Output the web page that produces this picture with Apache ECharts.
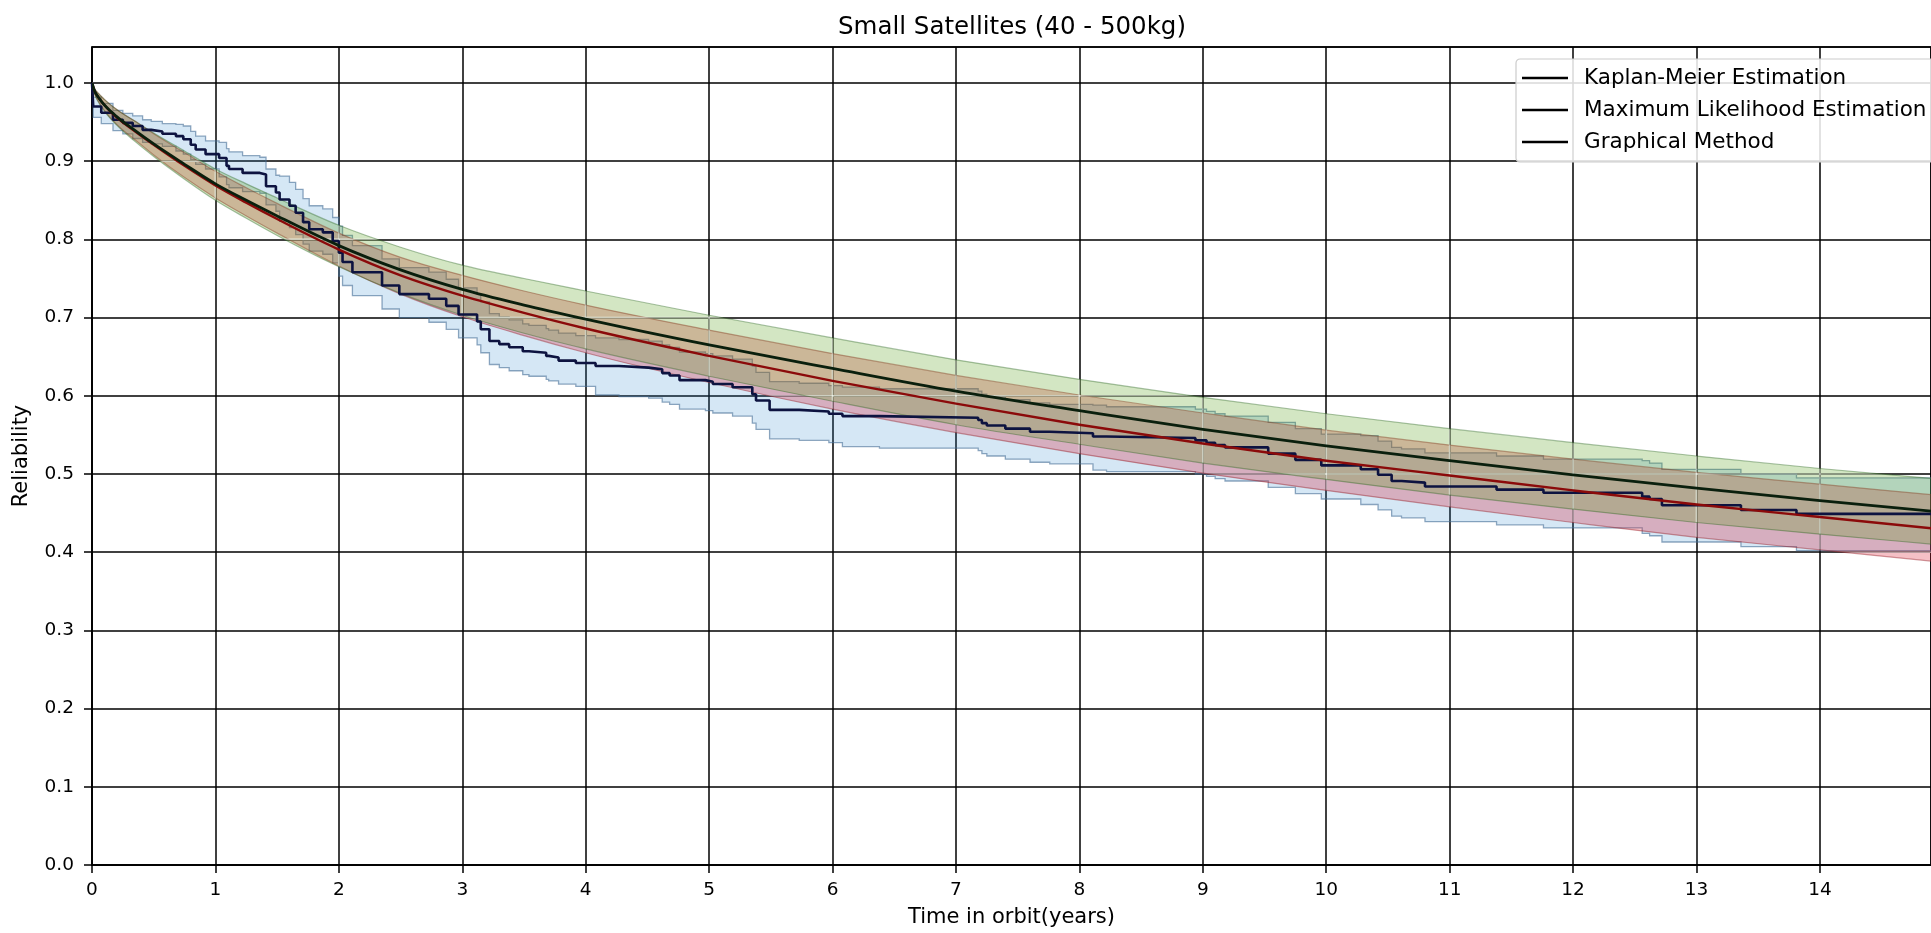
<!DOCTYPE html>
<html>
<head>
<meta charset="utf-8">
<title>Small Satellites (40 - 500kg)</title>
<script src="https://cdn.jsdelivr.net/npm/echarts@6/dist/echarts.min.js"></script>
<style>
  html, body { margin: 0; padding: 0; background: #ffffff; }
  #chart { width: 1931px; height: 933px; }
</style>
</head>
<body>
<div id="chart"></div>
<script>
// ---- Kaplan-Meier estimate (step function) with its confidence interval ----
const kmTime = [0, 0.01, 0.075, 0.17, 0.25, 0.33, 0.41, 0.48, 0.57, 0.68,
  0.74, 0.80, 0.84, 0.92, 1.03, 1.09, 1.11, 1.22, 1.36, 1.41,
  1.49, 1.52, 1.60, 1.65, 1.71, 1.76, 1.87, 1.95, 2.00, 2.03,
  2.11, 2.35, 2.49, 2.73, 2.87, 2.97, 3.12, 3.15, 3.22, 3.30,
  3.38, 3.49, 3.54, 3.68, 3.70, 3.78, 3.92, 4.08, 4.27, 4.51,
  4.62, 4.68, 4.76, 4.97, 5.03, 5.19, 5.35, 5.38, 5.49, 5.73,
  5.97, 6.08, 6.38, 7.18, 7.21, 7.25, 7.40, 7.60, 7.76, 8.11,
  8.22, 8.94, 9.03, 9.10, 9.18, 9.53, 9.75, 9.96, 10.28, 10.42,
  10.53, 10.61, 10.80, 11.38, 11.76, 12.56, 12.62, 12.72, 13.36, 13.81,
  15.0];
const kmReliability = [1.0, 0.970, 0.962, 0.953, 0.949, 0.945, 0.940, 0.938, 0.935, 0.932,
  0.928, 0.921, 0.915, 0.909, 0.904, 0.894, 0.890, 0.885, 0.883, 0.868,
  0.860, 0.851, 0.843, 0.834, 0.822, 0.813, 0.809, 0.798, 0.783, 0.771,
  0.758, 0.741, 0.730, 0.724, 0.715, 0.704, 0.695, 0.685, 0.670, 0.666,
  0.662, 0.657, 0.655, 0.651, 0.649, 0.645, 0.642, 0.638, 0.636, 0.634,
  0.629, 0.626, 0.620, 0.618, 0.615, 0.611, 0.602, 0.594, 0.582, 0.580,
  0.577, 0.574, 0.572, 0.569, 0.565, 0.562, 0.558, 0.554, 0.552, 0.548,
  0.546, 0.543, 0.540, 0.537, 0.534, 0.526, 0.518, 0.511, 0.506, 0.499,
  0.491, 0.489, 0.484, 0.480, 0.476, 0.471, 0.468, 0.460, 0.454, 0.449,
  0.449];
const kmLower = [1.0, 0.956, 0.948, 0.939, 0.935, 0.929, 0.924, 0.922, 0.919, 0.913,
  0.909, 0.902, 0.896, 0.890, 0.880, 0.870, 0.866, 0.861, 0.859, 0.844,
  0.836, 0.823, 0.815, 0.806, 0.794, 0.785, 0.781, 0.770, 0.753, 0.741,
  0.728, 0.711, 0.700, 0.694, 0.685, 0.674, 0.665, 0.655, 0.640, 0.636,
  0.632, 0.627, 0.625, 0.621, 0.619, 0.615, 0.612, 0.601, 0.599, 0.597,
  0.592, 0.589, 0.583, 0.581, 0.578, 0.574, 0.565, 0.557, 0.545, 0.543,
  0.540, 0.535, 0.533, 0.530, 0.526, 0.523, 0.519, 0.515, 0.513, 0.505,
  0.503, 0.500, 0.497, 0.494, 0.491, 0.483, 0.475, 0.468, 0.461, 0.454,
  0.446, 0.444, 0.439, 0.435, 0.431, 0.424, 0.421, 0.413, 0.407, 0.402,
  0.402];
const kmUpper = [1.0, 0.982, 0.974, 0.965, 0.961, 0.958, 0.953, 0.951, 0.948, 0.947,
  0.945, 0.938, 0.932, 0.926, 0.924, 0.916, 0.912, 0.907, 0.905, 0.890,
  0.882, 0.881, 0.873, 0.864, 0.852, 0.843, 0.839, 0.828, 0.817, 0.805,
  0.792, 0.775, 0.764, 0.758, 0.749, 0.738, 0.730, 0.720, 0.705, 0.701,
  0.697, 0.692, 0.690, 0.686, 0.684, 0.680, 0.677, 0.674, 0.672, 0.670,
  0.665, 0.662, 0.656, 0.654, 0.651, 0.647, 0.638, 0.630, 0.618, 0.616,
  0.613, 0.611, 0.609, 0.606, 0.602, 0.599, 0.595, 0.591, 0.589, 0.588,
  0.586, 0.583, 0.580, 0.577, 0.574, 0.566, 0.558, 0.551, 0.549, 0.542,
  0.534, 0.532, 0.527, 0.523, 0.519, 0.517, 0.514, 0.506, 0.500, 0.495,
  0.495];

// ---- Fitted reliability curves, sampled at these times (years) ----
const fitTime = [0, 0.02, 0.05, 0.1, 0.2, 0.35, 0.5, 0.75, 1, 1.25,
  1.5, 2, 2.5, 3, 3.5, 4, 5, 6, 7, 8,
  9, 10, 11, 12, 13, 14, 15];

// Maximum likelihood estimate and its confidence bounds
const mleReliability = [1.0, 0.990, 0.982, 0.972, 0.957, 0.939, 0.922, 0.896, 0.871, 0.850,
  0.830, 0.792, 0.761, 0.736, 0.716, 0.698, 0.665, 0.635, 0.606, 0.581,
  0.557, 0.536, 0.517, 0.499, 0.482, 0.466, 0.451];
const mleLower = [1.0, 0.986, 0.976, 0.964, 0.946, 0.925, 0.906, 0.877, 0.850, 0.827,
  0.805, 0.765, 0.731, 0.703, 0.680, 0.660, 0.625, 0.593, 0.563, 0.538,
  0.514, 0.493, 0.473, 0.455, 0.438, 0.423, 0.409];
const mleUpper = [1.0, 0.993, 0.987, 0.979, 0.966, 0.951, 0.936, 0.913, 0.890, 0.871,
  0.853, 0.818, 0.790, 0.767, 0.750, 0.734, 0.703, 0.674, 0.646, 0.621,
  0.598, 0.577, 0.558, 0.540, 0.523, 0.507, 0.493];

// Graphical-method estimate and its confidence bounds
const graphReliability = [1.0, 0.990, 0.982, 0.972, 0.956, 0.938, 0.921, 0.894, 0.869, 0.847,
  0.826, 0.787, 0.754, 0.728, 0.706, 0.686, 0.651, 0.619, 0.590, 0.563,
  0.539, 0.517, 0.498, 0.479, 0.461, 0.445, 0.429];
const graphLower = [1.0, 0.987, 0.977, 0.965, 0.947, 0.927, 0.908, 0.879, 0.853, 0.830,
  0.808, 0.766, 0.730, 0.701, 0.677, 0.655, 0.617, 0.583, 0.553, 0.526,
  0.501, 0.479, 0.458, 0.438, 0.419, 0.403, 0.387];
const graphUpper = [1.0, 0.993, 0.987, 0.979, 0.966, 0.951, 0.935, 0.911, 0.887, 0.866,
  0.846, 0.808, 0.777, 0.754, 0.734, 0.716, 0.684, 0.654, 0.626, 0.601,
  0.578, 0.556, 0.537, 0.519, 0.502, 0.487, 0.472];

// ---- Axis ticks and text ----
const xTicks = [0, 1, 2, 3, 4, 5, 6, 7, 8, 9, 10, 11, 12, 13, 14];
const yTicks = [0.0, 0.1, 0.2, 0.3, 0.4, 0.5, 0.6, 0.7, 0.8, 0.9, 1.0];
const legendNames = ['Kaplan-Meier Estimation', 'Maximum Likelihood Estimation', 'Graphical Method'];
const chartTitle = 'Small Satellites (40 - 500kg)';
const xAxisTitle = 'Time in orbit(years)';
const yAxisTitle = 'Reliability';

// ---------------------------------------------------------------------------
const FONT = 'DejaVu Sans';

function zip(xs, ys) { return xs.map((x, i) => [x, ys[i]]); }

// Vertices of a post-step ("step end") polyline through pixel points.
function stepVertices(pts) {
  const out = [pts[0]];
  for (let i = 1; i < pts.length; i++) {
    out.push([pts[i][0], pts[i - 1][1]]);
    out.push(pts[i]);
  }
  return out;
}

// Monotone cubic Hermite slopes for a curve y(x) given in pixels.
function hermiteSlopes(pts) {
  const n = pts.length, d = [], m = new Array(n);
  for (let i = 0; i < n - 1; i++) {
    d.push((pts[i + 1][1] - pts[i][1]) / (pts[i + 1][0] - pts[i][0]));
  }
  m[0] = d[0];
  m[n - 1] = d[n - 2];
  for (let i = 1; i < n - 1; i++) {
    const h0 = pts[i][0] - pts[i - 1][0], h1 = pts[i + 1][0] - pts[i][0];
    if (d[i - 1] * d[i] <= 0) { m[i] = 0; continue; }
    let s = (d[i - 1] * h1 + d[i] * h0) / (h0 + h1);
    const lim = 3 * Math.min(Math.abs(d[i - 1]), Math.abs(d[i]));
    if (Math.abs(s) > lim) s = Math.sign(s) * lim;
    m[i] = s;
  }
  return m;
}

// Bezier commands continuing a path through pts (the path is already at pts[0]).
function curveCommands(pts) {
  const m = hermiteSlopes(pts);
  let d = '';
  for (let i = 0; i < pts.length - 1; i++) {
    const [x0, y0] = pts[i], [x1, y1] = pts[i + 1];
    const dx = (x1 - x0) / 3;
    d += ' C' + (x0 + dx) + ',' + (y0 + m[i] * dx) + ' ' + (x1 - dx) + ',' + (y1 - m[i + 1] * dx) + ' ' + x1 + ',' + y1;
  }
  return d;
}

function clipOf(params) {
  const cs = params.coordSys;
  return { type: 'rect', shape: { x: cs.x, y: cs.y, width: cs.width, height: cs.height } };
}

// Light grid strokes seen through a shaded band.
function bandGridLines(params, api, color) {
  const cs = params.coordSys, lines = [];
  xTicks.forEach(t => {
    const x = api.coord([t, 0])[0];
    lines.push({ type: 'line', shape: { x1: x, y1: cs.y, x2: x, y2: cs.y + cs.height },
      style: { stroke: color, lineWidth: 1.6 } });
  });
  yTicks.forEach(v => {
    const y = api.coord([0, v])[1];
    lines.push({ type: 'line', shape: { x1: cs.x, y1: y, x2: cs.x + cs.width, y2: y },
      style: { stroke: color, lineWidth: 1.6 } });
  });
  return lines;
}

// Confidence band drawn as a filled region between two bound curves.
function bandSeries(name, times, lower, upper, stepped, fill, edge, gridTint, z) {
  return {
    type: 'custom',
    name: name,
    silent: true,
    z: z,
    data: [[times[0], upper[0]]],
    encode: { x: 0, y: 1 },
    renderItem: function (params, api) {
      const up = times.map((t, i) => api.coord([t, upper[i]]));
      const lo = times.map((t, i) => api.coord([t, lower[i]]));
      const children = [];
      if (stepped) {
        const upV = stepVertices(up), loV = stepVertices(lo);
        children.push({ type: 'polygon', shape: { points: upV.concat(loV.slice().reverse()) },
          style: { fill: fill, stroke: null } });
        children.push({ type: 'polyline', shape: { points: upV }, style: { fill: null, stroke: edge, lineWidth: 1.3 } });
        children.push({ type: 'polyline', shape: { points: loV }, style: { fill: null, stroke: edge, lineWidth: 1.3 } });
      } else {
        const loRev = lo.slice().reverse();
        const area = 'M' + up[0][0] + ',' + up[0][1] + curveCommands(up) +
          ' L' + loRev[0][0] + ',' + loRev[0][1] + curveCommands(loRev) + ' Z';
        children.push({ type: 'path', shape: { pathData: area }, style: { fill: fill, stroke: null } });
        if (gridTint) {
          children.push({ type: 'group', clipPath: { type: 'path', shape: { pathData: area } },
            children: bandGridLines(params, api, gridTint) });
        }
        children.push({ type: 'path', shape: { pathData: 'M' + up[0][0] + ',' + up[0][1] + curveCommands(up) },
          style: { fill: null, stroke: edge, lineWidth: 1.2 } });
        children.push({ type: 'path', shape: { pathData: 'M' + lo[0][0] + ',' + lo[0][1] + curveCommands(lo) },
          style: { fill: null, stroke: edge, lineWidth: 1.2 } });
      }
      return { type: 'group', clipPath: clipOf(params), children: children };
    }
  };
}

// Smooth estimate curve drawn through the sampled points.
function curveSeries(name, times, values, color, width, z) {
  return {
    type: 'custom',
    name: name,
    silent: true,
    z: z,
    data: [[times[0], values[0]]],
    encode: { x: 0, y: 1 },
    itemStyle: { color: color },
    renderItem: function (params, api) {
      const pts = times.map((t, i) => api.coord([t, values[i]]));
      return {
        type: 'group', clipPath: clipOf(params),
        children: [{ type: 'path', shape: { pathData: 'M' + pts[0][0] + ',' + pts[0][1] + curveCommands(pts) },
          style: { fill: null, stroke: color, lineWidth: width, lineJoin: 'round' } }]
      };
    }
  };
}

const chart = echarts.init(document.getElementById('chart'), null, { renderer: 'canvas', width: 1931, height: 933 });

const axisLineStyle = { color: '#000', width: 1.5 };

chart.setOption({
  animation: false,
  backgroundColor: '#ffffff',
  title: {
    text: chartTitle,
    left: 1012, top: 15, padding: 0,
    textAlign: 'center',
    textStyle: { fontFamily: FONT, fontSize: 24.5, fontWeight: 'normal', color: '#000' }
  },
  legend: {
    orient: 'vertical',
    left: 1516, top: 59,
    data: legendNames.map(n => ({ name: n, icon: 'rect', itemStyle: { color: '#000' } })),
    itemWidth: 46, itemHeight: 2.5, itemGap: 8,
    selectedMode: false,
    textStyle: { fontFamily: FONT, fontSize: 21.5, color: '#000', lineHeight: 24, padding: [0, 0, 0, 11] },
    padding: [7, 14, 8, 6],
    backgroundColor: 'rgba(255,255,255,0.85)',
    borderColor: '#cccccc', borderWidth: 1.2, borderRadius: 4
  },
  grid: {
    left: 92, top: 47, right: -3, bottom: 66,
    show: true, borderColor: '#000', borderWidth: 1.5, backgroundColor: 'transparent'
  },
  xAxis: {
    type: 'value', min: xTicks[0], max: 14.9, interval: xTicks[1] - xTicks[0],
    name: xAxisTitle, nameLocation: 'middle', nameGap: 42,
    nameTextStyle: { fontFamily: FONT, fontSize: 21, color: '#000' },
    axisLine: { show: true, lineStyle: axisLineStyle },
    axisTick: { show: true, length: 8, lineStyle: axisLineStyle },
    axisLabel: { fontFamily: FONT, fontSize: 18.5, color: '#000', margin: 16, showMaxLabel: false,
      formatter: v => String(Math.round(v)) },
    splitLine: { show: true, lineStyle: axisLineStyle }
  },
  yAxis: {
    type: 'value', min: yTicks[0], max: 1.046, interval: 0.1,
    name: yAxisTitle, nameLocation: 'middle', nameGap: 60,
    nameTextStyle: { fontFamily: FONT, fontSize: 21, color: '#000' },
    axisLine: { show: true, lineStyle: axisLineStyle },
    axisTick: { show: true, length: 8, lineStyle: axisLineStyle },
    axisLabel: { fontFamily: FONT, fontSize: 18.5, color: '#000', margin: 18, showMaxLabel: false,
      formatter: v => v.toFixed(1) },
    splitLine: { show: true, lineStyle: axisLineStyle }
  },
  series: [
    bandSeries('Kaplan-Meier interval', kmTime, kmLower, kmUpper, true,
      'rgba(45,135,205,0.20)', 'rgba(70,110,150,0.6)', null, 3),
    bandSeries('Graphical interval', fitTime, graphLower, graphUpper, false,
      'rgba(220,30,50,0.28)', 'rgba(150,30,40,0.45)', 'rgba(255,255,255,0.5)', 4),
    bandSeries('Maximum likelihood interval', fitTime, mleLower, mleUpper, false,
      'rgba(80,155,15,0.25)', 'rgba(40,100,30,0.40)', 'rgba(255,255,255,0.5)', 5),
    {
      type: 'line', name: legendNames[0], z: 6,
      data: zip(kmTime, kmReliability),
      step: 'end', showSymbol: false, silent: true,
      lineStyle: { color: '#0d1340', width: 2.6 },
      itemStyle: { color: '#0d1340' }
    },
    curveSeries(legendNames[2], fitTime, graphReliability, '#8b0a0a', 2.4, 7),
    curveSeries(legendNames[1], fitTime, mleReliability, '#0a1f0d', 2.8, 8)
  ]
});
</script>
</body>
</html>
